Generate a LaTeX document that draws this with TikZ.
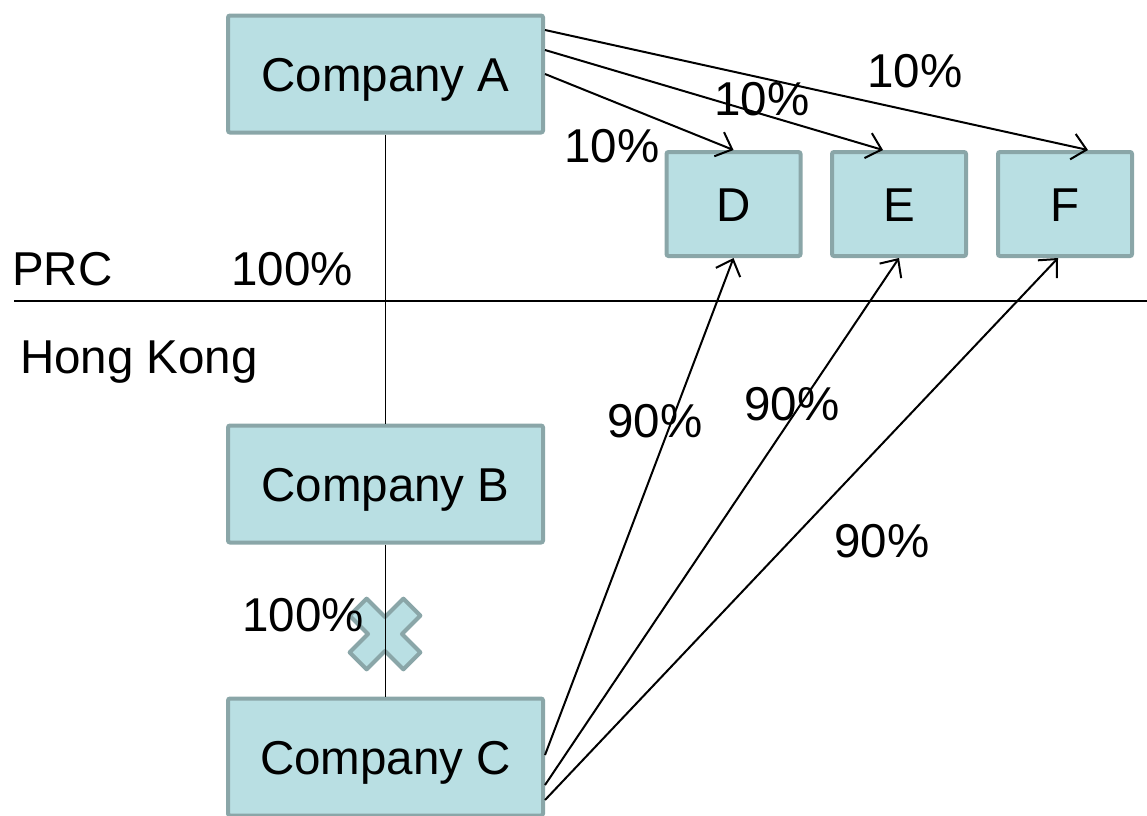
\documentclass[tikz,border=0pt]{standalone}
\usepackage{fontspec}
\setmainfont{Liberation Sans}
\usetikzlibrary{arrows.meta}
\definecolor{boxfill}{HTML}{B9DFE3}
\definecolor{boxedge}{HTML}{8AA6A8}
\tikzset{
  company/.style={draw=boxedge, fill=boxfill, line width=4pt, rounded corners=2pt,
    minimum width=315pt, minimum height=117pt, inner sep=0pt,
    text height=34pt, text depth=0pt,
    font=\fontsize{47.5}{56}\selectfont},
  sub/.style={company, minimum width=134pt, minimum height=104pt},
  lbl/.style={font=\fontsize{47.5}{56}\selectfont, inner sep=0pt,
    text height=34pt, text depth=0pt},
  link/.style={line width=1.6pt},
  own/.style={line width=2pt, -{Straight Barb[length=14pt, width=26pt, line width=2pt]}},
}
\begin{document}
\begin{tikzpicture}[x=1pt, y=-1pt]
\useasboundingbox (0,0) rectangle (1147,815);

% border between jurisdictions
\coordinate (bl) at (14,301);
\coordinate (br) at (1147,301);
\draw[link] (bl) -- (br);
\node[lbl, anchor=west] (prc) at (12,268) {PRC};
\node[lbl, anchor=west] (hk) at (20,356) {Hong Kong};

% companies
\node[company] (A) at (385.5,74) {Company A};
\node[company] (B) at (385.5,484) {Company B};
\node[company] (C) at (385.5,757) {Company C};
\node[sub] (D) at (733.5,204) {D};
\node[sub] (E) at (899,204) {E};
\node[sub] (F) at (1065,204) {F};

% severed holding marker
\begin{scope}[shift={(385,634)}, rotate=45]
  \draw[boxedge, fill=boxfill, line width=4pt, line join=round]
    (-12,-38) -- (12,-38) -- (12,-12) -- (38,-12) -- (38,12) -- (12,12) --
    (12,38) -- (-12,38) -- (-12,12) -- (-38,12) -- (-38,-12) -- (-12,-12) -- cycle;
\end{scope}

% wholly owned chain
\draw[link] (A.south) -- (B.north);
\draw[link] (B.south) -- (C.north);
\node[lbl] (p1) at (292,268) {100\%};
\node[lbl] (p2) at (303,614) {100\%};

% minority holdings from A
\draw[own] (A.east) -- (D.north);
\draw[own] ([yshift=24pt]A.east) -- ([xshift=-16pt]E.north);
\draw[own] ([yshift=44pt]A.east) -- ([xshift=23pt]F.north);
\node[lbl] (t1) at (612,145) {10\%};
\node[lbl] (t2) at (762,98) {10\%};
\node[lbl] (t3) at (915,70) {10\%};

% majority holdings from C
\draw[own] ([yshift=2pt]C.east) -- (D.south);
\draw[own] ([yshift=-28pt]C.east) -- (E.south);
\draw[own] ([yshift=-43pt]C.east) -- ([xshift=-7pt]F.south);
\node[lbl] (n1) at (655,420) {90\%};
\node[lbl] (n2) at (792,403) {90\%};
\node[lbl] (n3) at (882,540) {90\%};
\end{tikzpicture}
\end{document}
